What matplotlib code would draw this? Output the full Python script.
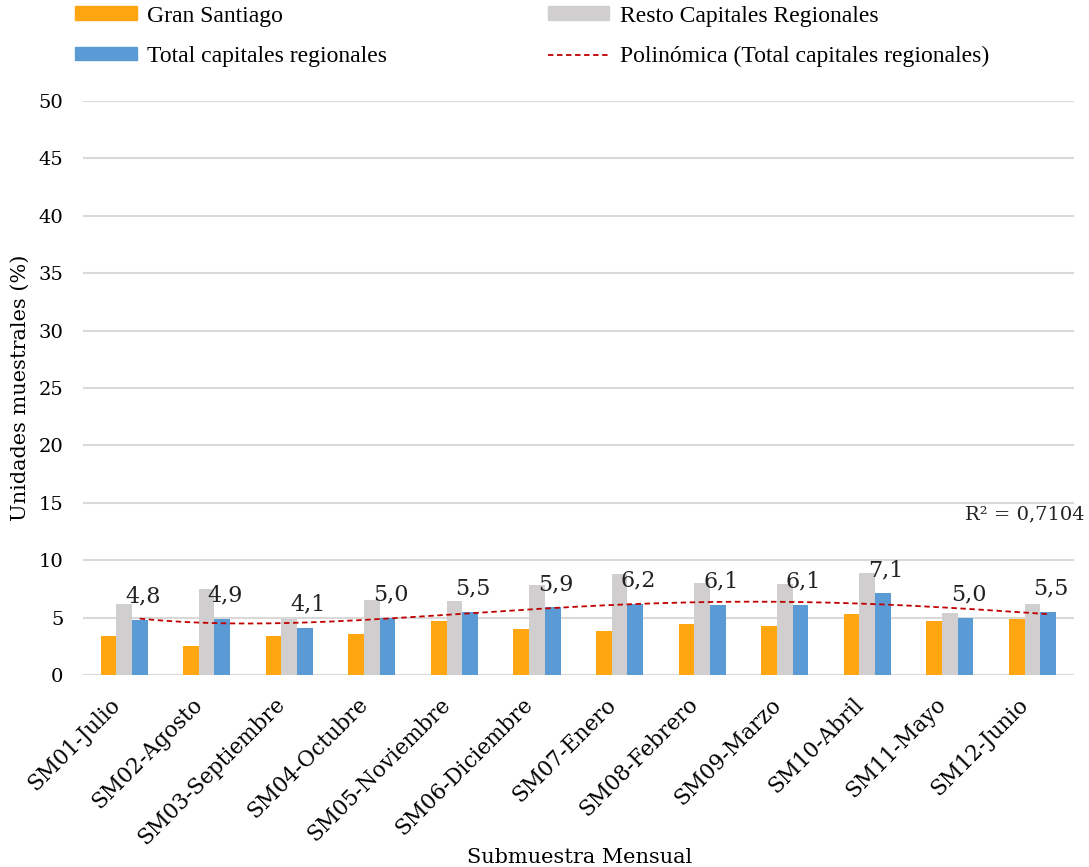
import numpy as np
import matplotlib
matplotlib.use("Agg")
import matplotlib.pyplot as plt
import matplotlib.transforms as mtransforms
from matplotlib.lines import Line2D
from matplotlib.patches import Patch

categories = ["SM01-Julio", "SM02-Agosto", "SM03-Septiembre", "SM04-Octubre",
              "SM05-Noviembre", "SM06-Diciembre", "SM07-Enero", "SM08-Febrero",
              "SM09-Marzo", "SM10-Abril", "SM11-Mayo", "SM12-Junio"]
gran_santiago = [3.4, 2.5, 3.4, 3.6, 4.7, 4.0, 3.8, 4.4, 4.3, 5.3, 4.7, 4.9]
resto_capitales = [6.2, 7.5, 4.9, 6.5, 6.4, 7.8, 8.8, 8.0, 7.9, 8.9, 5.4, 6.2]
total_capitales = [4.8, 4.9, 4.1, 5.0, 5.5, 5.9, 6.2, 6.1, 6.1, 7.1, 5.0, 5.5]
y_ticks = [0, 5, 10, 15, 20, 25, 30, 35, 40, 45, 50]
r2_label = "R² = 0,7104"

c_orange = "#FFA611"
c_gray = "#D0CECE"
c_blue = "#5B9BD5"
c_trend = "#C00000"
serif = "DejaVu Serif"

fig = plt.figure(figsize=(10.89, 8.67), dpi=100)
ax = fig.add_axes([0.076, 0.2215, 0.91, 0.662])

x = np.arange(len(categories))
w = 0.19
ax.bar(x - w, gran_santiago, w, color=c_orange, zorder=3)
ax.bar(x, resto_capitales, w, color=c_gray, zorder=3)
ax.bar(x + w, total_capitales, w, color=c_blue, zorder=3)

# value labels for the total series
for xi, v in zip(x + w, total_capitales):
    ax.annotate(f"{v:.1f}".replace(".", ","), (xi, v), xytext=(3, 17),
                textcoords="offset pixels", ha="center", va="baseline",
                fontsize=16, family=serif, color="#222222", zorder=5)

# polynomial trend over the total series
xs = np.arange(1, len(categories) + 1)
coef = np.polyfit(xs, total_capitales, 4)
xf = np.linspace(1, len(categories), 200)
ax.plot(xf - 1 + w, np.polyval(coef, xf), color=c_trend, lw=1.3,
        ls=(0, (3, 2)), zorder=4)

ax.text(11.63, 14.0, r2_label, fontsize=14, family=serif, color="#222222",
        ha="right", va="center", clip_on=False)

ax.set_xlim(-0.5, len(categories) - 0.5)
ax.set_ylim(0, 50)
ax.set_yticks(y_ticks)
ax.set_yticklabels([str(t) for t in y_ticks], family=serif, fontsize=14)
ax.yaxis.grid(True, color="#D9D9D9", lw=1.5, zorder=0)
ax.set_axisbelow(True)
for s in ax.spines.values():
    s.set_visible(False)
ax.tick_params(axis="y", length=0, pad=14)
ax.tick_params(axis="x", length=0, pad=14)
ax.set_xticks(x)
ax.set_xticklabels(categories, rotation=45, ha="right", va="center",
                   rotation_mode="anchor", family=serif, fontsize=15.5)
shift = mtransforms.ScaledTranslation(-7 / 100, -7 / 100, fig.dpi_scale_trans)
for lbl in ax.get_xticklabels():
    lbl.set_transform(lbl.get_transform() + shift)

ax.set_ylabel("Unidades muestrales (%)", family=serif, fontsize=15, labelpad=6)
fig.text(0.532, 0.0, "Submuestra Mensual", family=serif, fontsize=15,
         ha="center", va="bottom")

handles = [Patch(color=c_orange), Patch(color=c_blue), Patch(color=c_gray),
           Line2D([], [], color=c_trend, lw=1.3, ls=(0, (3, 2)))]
labels = ["Gran Santiago", "Total capitales regionales",
          "Resto Capitales Regionales", "Polinómica (Total capitales regionales)"]
fig.legend(handles, labels, ncol=2, loc="upper left",
           bbox_to_anchor=(0.0606, 1.0045), frameon=False,
           prop={"family": "Liberation Serif", "size": 17},
           handlelength=2.6, handleheight=0.5, handletextpad=0.45,
           labelspacing=0.83, columnspacing=6.8, borderaxespad=0)

fig.savefig("out.png", dpi=100)
